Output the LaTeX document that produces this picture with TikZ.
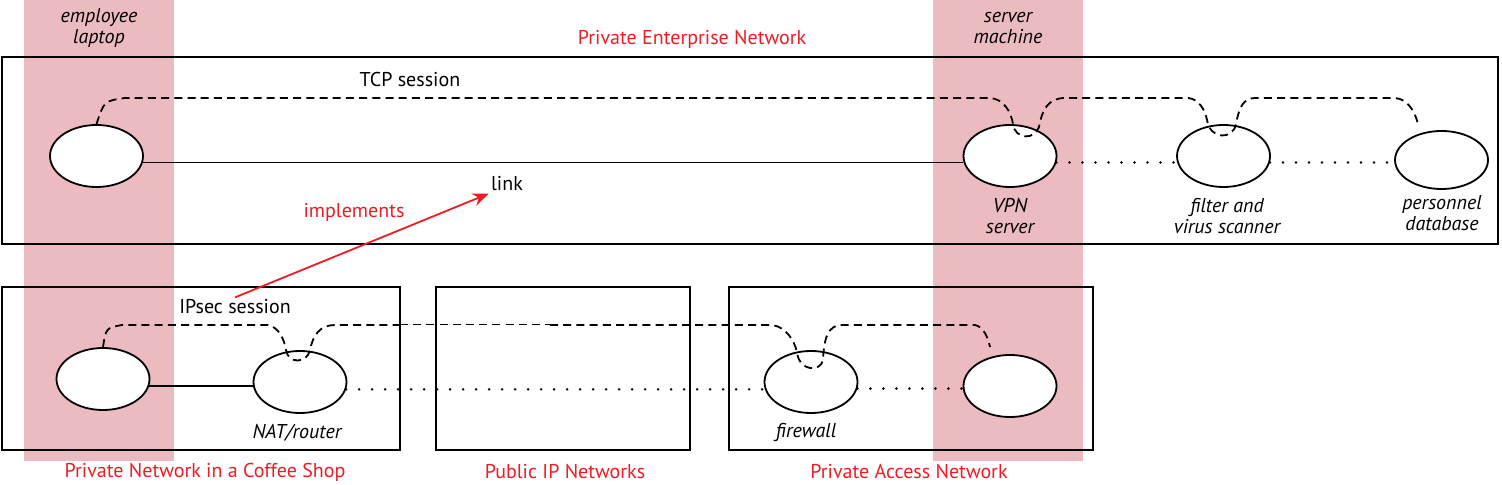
\documentclass[tikz,border=0pt]{standalone}
\usepackage{fontspec}
\setmainfont{PT Sans}
\usetikzlibrary{shapes.geometric,arrows.meta}
\definecolor{bandpink}{RGB}{236,187,192}
\definecolor{labred}{RGB}{237,28,36}
\begin{document}
\begin{tikzpicture}[x=0.5pt,y=-0.5pt,
  every node/.style={font=\fontsize{10pt}{10.5pt}\selectfont, inner sep=1pt},
  dev/.style={ellipse, draw, fill=white, line width=0.9pt, minimum width=46.5pt, minimum height=31pt, inner sep=0pt},
  netbox/.style={draw, line width=1pt},
  band/.style={fill=bandpink, draw=none},
  netlabel/.style={text=labred},
  devlabel/.style={font=\fontsize{10pt}{10.5pt}\selectfont\itshape, align=center},
  session/.style={line width=0.9pt, dash pattern=on 4pt off 2.6pt},
  thinsession/.style={line width=0.5pt, dash pattern=on 4pt off 2.6pt},
  wire/.style={line width=0.85pt},
  dotwire/.style={line width=1.4pt, line cap=round, dash pattern=on 0pt off 6.5pt},
  implarrow/.style={labred, line width=0.9pt, -{Stealth[length=8pt,width=6.5pt]}}
]
\useasboundingbox (0,0) rectangle (1502,485);
% bands
\fill[band] (24,0) rectangle (174,461);
\fill[band] (933,0) rectangle (1083,461);
% network boxes
\draw[netbox] (2,57) rectangle (1498,244);
\draw[netbox] (2,287) rectangle (400,450);
\draw[netbox] (436,287) rectangle (690,450);
\draw[netbox] (729,287) rectangle (1093,450);
% labels top
\node[devlabel] (lbl-laptop) at (99,28) {employee\\laptop};
\node[devlabel] (lbl-server) at (1008,28) {server\\machine};
\node[netlabel] (lbl-pen) at (692,39) {Private Enterprise Network};
\node (tcp) at (410,80) {TCP session};
\node (link) at (507,184) {link};
\node[netlabel] (impl) at (354,212) {implements};
\node (ipsec) at (235,307) {IPsec session};
% bottom labels
\node[netlabel] (lbl-coffee) at (205,472) {Private Network in a Coffee Shop};
\node[netlabel] (lbl-public) at (565,472) {Public IP Networks};
\node[netlabel] (lbl-access) at (909,472) {Private Access Network};
% devices top
\node[dev] (lt1) at (96.5,156) {};
\node[dev] (vpn) at (1010,156) {};
\node[dev] (filt) at (1223.5,156) {};
\node[dev, minimum height=29pt] (pers) at (1441.5,160) {};
\node[devlabel] (lbl-vpn) at (1010,216) {VPN\\server};
\node[devlabel] (lbl-filt) at (1227,216) {filter and\\virus scanner};
\node[devlabel] (lbl-pers) at (1442,213) {personnel\\database};
% devices bottom
\node[dev] (lt2) at (103,379) {};
\node[dev] (nat) at (300,382) {};
\node[dev] (fw) at (811,382) {};
\node[dev] (srv) at (1010,386) {};
\node[devlabel] (lbl-nat) at (297,433) {NAT/router};
\node[devlabel] (lbl-fw) at (806,433) {firewall};
% links
\draw[wire] (lt1.-8) -- (lt1.-8 -| vpn.west);
\draw[dotwire] (vpn.-8) -- (vpn.-8 -| filt.west);
\draw[dotwire] (filt.-8) -- (filt.-8 -| pers.west);
\draw[wire] (lt2.-9) -- (lt2.-9 -| nat.west);
\draw[dotwire] (nat.-9) -- (nat.-9 -| fw.west);
\draw[dotwire] (fw.-8) -- (fw.-8 -| srv.west);
% TCP session
\draw[session] (lt1.north) .. controls (104,101) .. (125,98) -- (990,98)
  .. controls (1004,99) and (1011,112) .. (1013,124)
  .. controls (1015,140) and (1035,140) .. (1039,127)
  .. controls (1042,110) and (1048,98) .. (1065,98) -- (1188,98)
  .. controls (1199,99) and (1205,110) .. (1207,120)
  .. controls (1210,140) and (1233,140) .. (1236,124)
  .. controls (1239,108) and (1243,98) .. (1255,98) -- (1395,98)
  .. controls (1408,99) and (1415,112) .. (1418,124);
% IPsec session
\draw[session] (lt2.north) .. controls (106,328) .. (122,325) -- (268,325)
  .. controls (278,327) and (284,338) .. (286,350)
  .. controls (288,364) and (307,364) .. (310,350)
  .. controls (313,335) and (320,325) .. (335,325) -- (400,325);
\draw[thinsession] (400,325) -- (550,325);
\draw[session] (550,325) -- (772,325)
  .. controls (786,327) and (794,340) .. (797,352)
  .. controls (799,372) and (821,372) .. (823,360)
  .. controls (824,338) and (828,325) .. (842,325) -- (975,325)
  .. controls (984,327) and (988,338) .. (990,347);
% implements arrow
\draw[implarrow] (ipsec.north) -- (link.south west);
\end{tikzpicture}
\end{document}
